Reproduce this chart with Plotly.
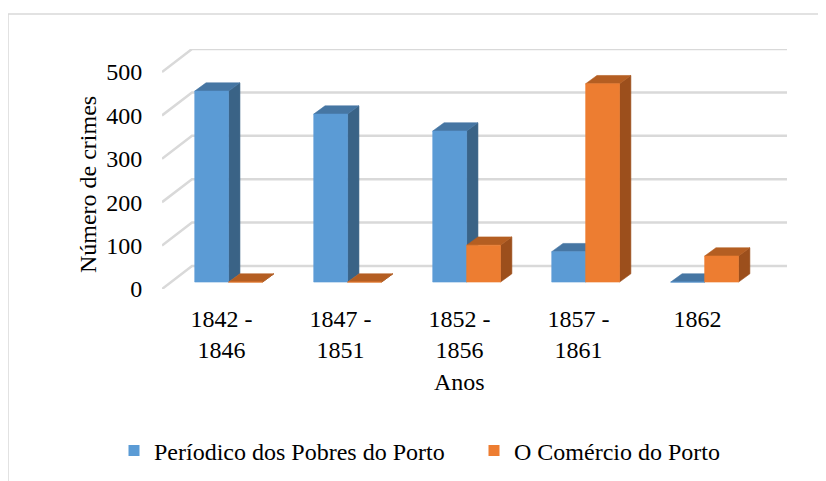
"""
3D-style clustered column chart: crimes reported per period in two Porto newspapers.
"""

import plotly.graph_objects as go

# ---- data -------------------------------------------------------------
periods = ['1842 -<br>1846', '1847 -<br>1851', '1852 -<br>1856', '1857 -<br>1861', '1862']
pobres = [440, 387, 348, 70, 0]          # Períodico dos Pobres do Porto
comercio = [0, 0, 85, 457, 60]           # O Comércio do Porto
y_ticks = [0, 100, 200, 300, 400, 500]

series_names = ['Períodico dos Pobres do Porto', 'O Comércio do Porto']

# ---- styling / 3D geometry (in axis units) -----------------------------
FONT = dict(family='Liberation Serif', size=24, color='#000000')
GRID = '#d9d9d9'
WALL_DX, WALL_DY = 0.252, 53      # floor depth: front edge -> back wall
BAR_DX, BAR_DY = 0.095, 19        # depth of each column
BAR_BASE = 16                     # columns sit slightly behind the front edge
BLUE = dict(front='#5B9BD5', side='#3A6386', top='#4676A3')
ORANGE = dict(front='#ED7D31', side='#9C4F1C', top='#B45E22')


def faces(values, x_left, width):
    """Build polygon coordinate lists (front, side, top) for one series."""
    front, side, top = ([], []), ([], []), ([], [])
    for i, v in enumerate(values):
        x0 = i + x_left
        x1 = x0 + width
        b, t = BAR_BASE, BAR_BASE + v
        front[0].extend([x0, x1, x1, x0, x0, None])
        front[1].extend([b, b, t, t, b, None])
        side[0].extend([x1, x1 + BAR_DX, x1 + BAR_DX, x1, x1, None])
        side[1].extend([b, b + BAR_DY, t + BAR_DY, t, b, None])
        top[0].extend([x0, x0 + BAR_DX, x1 + BAR_DX, x1, x0, None])
        top[1].extend([t, t + BAR_DY, t + BAR_DY, t, t, None])
    return front, side, top


fig = go.Figure()

# back wall gridlines + left-side diagonal lines
n = len(periods)
gx, gy = [], []
for v in y_ticks:
    gx.extend([-0.5, -0.5 + WALL_DX, n - 0.5 + WALL_DX, None])
    gy.extend([v, v + WALL_DY, v + WALL_DY, None])
fig.add_trace(go.Scatter(x=gx, y=gy, mode='lines', line=dict(color=GRID, width=2.5),
                         hoverinfo='skip', showlegend=False))

# columns: blue first, orange afterwards so it hides blue side faces
for values, colors, x_left in [(pobres, BLUE, -0.225), (comercio, ORANGE, 0.06)]:
    front, side, top = faces(values, x_left, 0.285)
    for poly, key in [(side, 'side'), (top, 'top'), (front, 'front')]:
        fig.add_trace(go.Scatter(
            x=poly[0], y=poly[1], mode='lines', fill='toself',
            fillcolor=colors[key], line=dict(color=colors[key], width=0.6),
            hoverinfo='skip', showlegend=False))

# legend entries
for name, colors in zip(series_names, [BLUE, ORANGE]):
    fig.add_trace(go.Scatter(x=[None], y=[None], mode='markers', name=name,
                             marker=dict(symbol='square', size=11, color=colors['front'])))

# axis titles as annotations (centred on the front floor / front scale)
fig.add_annotation(text='Anos', x=(n - 1) / 2, xref='x', y=-0.3875, yref='paper',
                   showarrow=False, font=FONT, xanchor='center', yanchor='middle')
fig.add_annotation(text='Número de crimes', x=-0.118, xref='paper', y=240, yref='y',
                   textangle=-90, showarrow=False, font=FONT,
                   xanchor='center', yanchor='middle')

# outer chart border (its right and bottom edges fall outside the window)
fig.add_shape(type='rect', xref='paper', yref='paper',
              x0=-0.2464, x1=1.08, y0=1.146, y1=-0.86,
              line=dict(color='#d9d9d9', width=1.5), fillcolor='rgba(0,0,0,0)', layer='below')

# the page body adds an 8px offset; the figure runs 8px past the window edges
fig.update_layout(
    width=826, height=481,
    margin=dict(l=154, r=47, t=41, b=200),
    paper_bgcolor='#FFFFFF',
    plot_bgcolor='#FFFFFF',
    font=FONT,
    showlegend=True,
    legend=dict(orientation='h', xanchor='left', x=-0.045, yanchor='middle', y=-0.675,
                entrywidth=315, font=FONT, bgcolor='rgba(0,0,0,0)'),
    xaxis=dict(range=[-0.5, n - 0.5 + WALL_DX], tickvals=list(range(n)), ticktext=periods,
               showgrid=False, zeroline=False, showline=False,
               ticks='outside', ticklen=8, tickcolor='rgba(0,0,0,0)', fixedrange=True),
    yaxis=dict(range=[0, 500 + WALL_DY], tickvals=y_ticks,
               showgrid=False, zeroline=False, showline=False,
               ticks='outside', ticklen=14, tickcolor='rgba(0,0,0,0)', fixedrange=True),
)

fig.write_html("out.html")
